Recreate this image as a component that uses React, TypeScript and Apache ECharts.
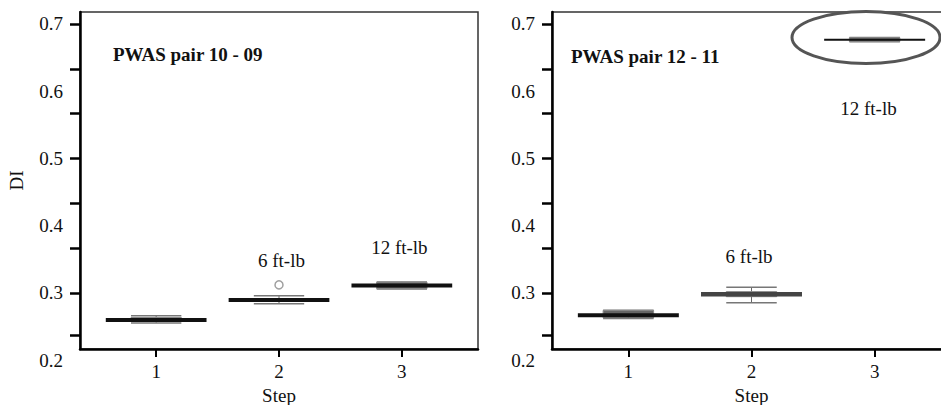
import React, { useEffect, useRef } from "react";
import * as echarts from "echarts";

// ---- data ----
const steps = [1, 2, 3];
// [min, Q1, median, Q3, max]
const leftBoxes = [
  [0.2555, 0.2575, 0.26, 0.2635, 0.266],
  [0.284, 0.288, 0.2895, 0.291, 0.296],
  [0.306, 0.3065, 0.311, 0.316, 0.3165],
];
const leftOutliers = [[2, 0.312]];
const rightBoxes = [
  [0.262, 0.263, 0.267, 0.274, 0.2745],
  [0.2855, 0.2945, 0.298, 0.302, 0.3085],
  [0.6735, 0.674, 0.6765, 0.6795, 0.68],
];
const leftTitle = "PWAS pair 10 - 09";
const rightTitle = "PWAS pair 12 - 11";
const leftNotes = ["6 ft-lb", "12 ft-lb"];
const leftNotePos = [[2.02, 0.3476], [2.98, 0.3669]];
const rightNotes = ["6 ft-lb", "12 ft-lb"];
const rightNotePos = [[1.98, 0.3535], [2.95, 0.575]];
const yLabelValues = [0.2, 0.3, 0.4, 0.5, 0.6, 0.7];
const yTickValues = [0.2367, 0.3, 0.3667, 0.4333, 0.5, 0.5667, 0.6333, 0.7];
const xTickValues = [1, 2, 3];

// styles (separate from data)
const leftMedianStyle = [
  { color: "#111", width: 4 },
  { color: "#111", width: 4 },
  { color: "#111", width: 4 },
];
const rightMedianStyle = [
  { color: "#111", width: 4 },
  { color: "#444", width: 4.5 },
  { color: "#111", width: 2 },
];

const FONT = '"Liberation Serif", "Times New Roman", serif';
const FS = 19;
const Y_MAX = 0.7178;
const Y_PLOT_MIN = 0.2167;
const X_MIN = 0.38;
const X_MAX = 3.62;
const BOX_HALF = 0.205;
const MED_HALF = 0.41;

function makeBoxRenderer(medStyles: { color: string; width: number }[]) {
  return (params: any, api: any) => {
    const x = api.value(0);
    const mn = api.value(1);
    const q1 = api.value(2);
    const md = api.value(3);
    const q3 = api.value(4);
    const mx = api.value(5);
    const c = (v: number) => api.coord([x, v]);
    const half = api.size([BOX_HALF, 0])[0];
    const mhalf = api.size([MED_HALF, 0])[0];
    const pMin = c(mn);
    const pMax = c(mx);
    const pQ1 = c(q1);
    const pQ3 = c(q3);
    const pMd = c(md);
    const cx = pMin[0];
    const ms = medStyles[params.dataIndex];
    return {
      type: "group",
      children: [
        {
          type: "line",
          shape: { x1: cx, y1: pMin[1], x2: cx, y2: pMax[1] },
          style: { stroke: "#666", lineWidth: 1 },
        },
        {
          type: "line",
          shape: { x1: cx - half, y1: pMin[1], x2: cx + half, y2: pMin[1] },
          style: { stroke: "#777", lineWidth: 1.5 },
        },
        {
          type: "line",
          shape: { x1: cx - half, y1: pMax[1], x2: cx + half, y2: pMax[1] },
          style: { stroke: "#777", lineWidth: 1.5 },
        },
        {
          type: "rect",
          shape: { x: cx - half, y: pQ3[1], width: half * 2, height: Math.max(pQ1[1] - pQ3[1], 1) },
          style: { fill: "#666", stroke: "#888", lineWidth: 1 },
        },
        {
          type: "line",
          shape: { x1: cx - mhalf, y1: pMd[1], x2: cx + mhalf, y2: pMd[1] },
          style: { stroke: ms.color, lineWidth: ms.width },
        },
      ],
    };
  };
}

function makeTextRenderer(texts: string[]) {
  return (params: any, api: any) => {
    const p = api.coord([api.value(0), api.value(1)]);
    return {
      type: "text",
      x: p[0],
      y: p[1],
      style: {
        text: texts[params.dataIndex],
        font: `${FS}px ${FONT}`,
        fill: "#111",
        align: "center",
        verticalAlign: "middle",
      },
    };
  };
}

const axisText = { fontFamily: FONT, fontSize: FS, color: "#111" };

function panelAxes(gridPlot: number, gridLab: number, showName: boolean) {
  const xAxes = [
    {
      gridIndex: gridPlot,
      type: "value",
      min: X_MIN,
      max: X_MAX,
      splitLine: { show: false },
      axisLine: { show: true, lineStyle: { color: "#000", width: 2.5 } },
      axisTick: { show: true, customValues: xTickValues, length: 8, lineStyle: { color: "#000", width: 2 } },
      axisLabel: { customValues: xTickValues, margin: 13, ...axisText },
      name: "Step",
      nameLocation: "middle",
      nameGap: 36,
      nameTextStyle: { ...axisText },
    },
    { gridIndex: gridLab, type: "value", min: X_MIN, max: X_MAX, show: false },
  ];
  const yAxes = [
    {
      gridIndex: gridPlot,
      type: "value",
      min: Y_PLOT_MIN,
      max: Y_MAX,
      splitLine: { show: false },
      axisLine: { show: true, lineStyle: { color: "#000", width: 2.5 } },
      axisTick: { show: true, customValues: yTickValues, length: 10, lineStyle: { color: "#000", width: 2.5 } },
      axisLabel: { show: false },
      name: showName ? "DI" : "",
      nameLocation: "middle",
      nameGap: 54,
      nameRotate: 90,
      nameTextStyle: { ...axisText },
    },
    {
      gridIndex: gridLab,
      type: "value",
      min: 0.2,
      max: Y_MAX,
      splitLine: { show: false },
      axisLine: { show: false },
      axisTick: { show: false },
      axisLabel: {
        customValues: yLabelValues,
        margin: 17,
        formatter: (v: number) => v.toFixed(1),
        ...axisText,
      },
    },
  ];
  return { xAxes, yAxes };
}

export default function App() {
  const ref = useRef<HTMLDivElement>(null);
  useEffect(() => {
    if (!ref.current) return;
    const chart = echarts.init(ref.current, undefined, { renderer: "svg" });
    const L = panelAxes(0, 1, true);
    const R = panelAxes(2, 3, false);
    const labH = (Y_MAX - 0.2) * (337 / (Y_MAX - Y_PLOT_MIN));
    const titleStyle = { fontFamily: FONT, fontWeight: "bold", fontSize: FS, color: "#111" };
    const g = { outerBoundsMode: "none", containLabel: false };
    chart.setOption({
      animation: false,
      backgroundColor: "#fff",
      title: [
        { text: leftTitle, left: 113, top: 45, padding: 0, textStyle: titleStyle },
        { text: rightTitle, left: 571, top: 47, padding: 0, textStyle: titleStyle },
      ],
      grid: [
        { ...g, left: 80, top: 12, width: 398, height: 337, show: true, borderColor: "#333", borderWidth: 1.5, backgroundColor: "transparent" },
        { ...g, left: 80, top: 12, width: 398, height: labH },
        { ...g, left: 552, top: 12, width: 399, height: 337, show: true, borderColor: "#333", borderWidth: 1.5, backgroundColor: "transparent" },
        { ...g, left: 552, top: 12, width: 399, height: labH },
      ],
      xAxis: [...L.xAxes, ...R.xAxes],
      yAxis: [...L.yAxes, ...R.yAxes],
      series: [
        {
          type: "custom",
          xAxisIndex: 0,
          yAxisIndex: 0,
          renderItem: makeBoxRenderer(leftMedianStyle),
          encode: { x: 0, y: [1, 2, 3, 4, 5] },
          data: leftBoxes.map((b, i) => [steps[i], ...b]),
          z: 3,
        },
        {
          type: "scatter",
          xAxisIndex: 0,
          yAxisIndex: 0,
          data: leftOutliers,
          symbol: "circle",
          symbolSize: 8,
          itemStyle: { color: "#fff", borderColor: "#888", borderWidth: 1.5 },
          z: 4,
        },
        {
          type: "custom",
          xAxisIndex: 0,
          yAxisIndex: 0,
          renderItem: makeTextRenderer(leftNotes),
          encode: { x: 0, y: 1 },
          data: leftNotePos,
        },
        {
          type: "custom",
          xAxisIndex: 2,
          yAxisIndex: 2,
          renderItem: makeBoxRenderer(rightMedianStyle),
          encode: { x: 0, y: [1, 2, 3, 4, 5] },
          data: rightBoxes.map((b, i) => [steps[i], ...b]),
          z: 3,
        },
        {
          type: "custom",
          xAxisIndex: 2,
          yAxisIndex: 2,
          renderItem: makeTextRenderer(rightNotes),
          encode: { x: 0, y: 1 },
          data: rightNotePos,
        },
      ],
      graphic: [
        {
          type: "ellipse",
          shape: { cx: 866, cy: 37.5, rx: 74, ry: 26 },
          style: { fill: "transparent", stroke: "#555", lineWidth: 3 },
          z: 100,
        },
      ],
    });
    return () => chart.dispose();
  }, []);
  return (
    <div
      ref={ref}
      style={{ position: "fixed", left: 0, top: 0, width: 941, height: 405, background: "#fff" }}
    />
  );
}
